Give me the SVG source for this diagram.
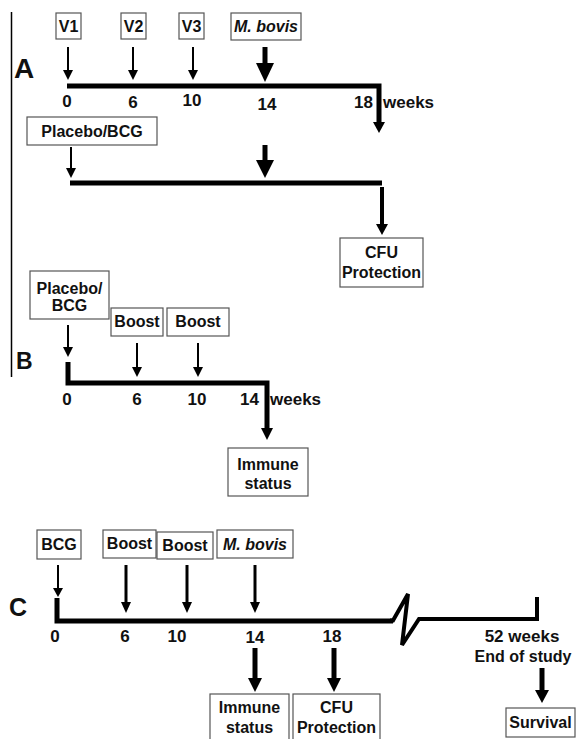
<svg xmlns="http://www.w3.org/2000/svg" width="576" height="739" viewBox="0 0 576 739">
<style>
.bx{fill:#fff;stroke:#555;stroke-width:1.2}
.t{font-family:"Liberation Sans",Arial,sans-serif;font-weight:bold;font-size:16px;fill:#111;text-anchor:middle}
.tk{font-family:"Liberation Sans",Arial,sans-serif;font-weight:bold;font-size:17px;fill:#111;text-anchor:middle}
.tl{text-anchor:start}
.it{font-style:italic}
.big{font-family:"Liberation Sans",Arial,sans-serif;font-weight:bold;fill:#111}
.ln{fill:none;stroke:#000;stroke-linecap:butt;stroke-linejoin:miter}
.s2{stroke-width:2}
.s3{stroke-width:3}
.s4{stroke-width:4}
.s5{stroke-width:5}
.hd{fill:#000}
</style>
<rect width="576" height="739" fill="#fff"/>
<g id="divider"><line x1="11.5" y1="12" x2="11.5" y2="377" class="ln" stroke-width="1.5"/></g>
<g id="panel-labels">
<text x="14" y="78" class="big" font-size="28">A</text>
<text x="16" y="369" class="big" font-size="23">B</text>
<text x="9" y="616" class="big" font-size="25">C</text>
</g>
<g id="nodes">
<g id="a-v1"><rect class="bx" x="56" y="13" width="25" height="26"/><text class="t" x="68.5" y="32">V1</text></g>
<g id="a-v2"><rect class="bx" x="121" y="13" width="25" height="26"/><text class="t" x="133.5" y="32">V2</text></g>
<g id="a-v3"><rect class="bx" x="179" y="13" width="25" height="26"/><text class="t" x="191.5" y="32">V3</text></g>
<g id="a-mbovis"><rect class="bx" x="231" y="13" width="70" height="27"/><text class="t it" x="266" y="32">M. bovis</text></g>
<g id="a-placebo"><rect class="bx" x="27" y="117" width="130" height="28"/><text class="t" x="92" y="137">Placebo/BCG</text></g>
<g id="a-cfu"><rect class="bx" x="340" y="238" width="83" height="49"/><text class="t" x="381.5" y="258">CFU</text><text class="t" x="381.5" y="278">Protection</text></g>
<g id="b-placebo"><rect class="bx" x="30" y="271" width="79" height="48"/><text class="t" x="69.5" y="294">Placebo/</text><text class="t" x="69.5" y="311">BCG</text></g>
<g id="b-boost1"><rect class="bx" x="111" y="308" width="52" height="28"/><text class="t" x="137" y="327">Boost</text></g>
<g id="b-boost2"><rect class="bx" x="167" y="308" width="62" height="28"/><text class="t" x="198" y="327">Boost</text></g>
<g id="b-immune"><rect class="bx" x="228" y="448" width="80" height="48"/><text class="t" x="268" y="470">Immune</text><text class="t" x="268" y="489">status</text></g>
<g id="c-bcg"><rect class="bx" x="37" y="530" width="44" height="29"/><text class="t" x="59" y="550">BCG</text></g>
<g id="c-boost1"><rect class="bx" x="103" y="530" width="53" height="28"/><text class="t" x="129.5" y="549">Boost</text></g>
<g id="c-boost2"><rect class="bx" x="157" y="532" width="56" height="27"/><text class="t" x="185" y="551">Boost</text></g>
<g id="c-mbovis"><rect class="bx" x="217" y="530" width="76" height="28"/><text class="t it" x="255" y="550">M. bovis</text></g>
<g id="c-immune"><rect class="bx" x="210" y="694" width="79" height="46"/><text class="t" x="249.5" y="713">Immune</text><text class="t" x="249.5" y="733">status</text></g>
<g id="c-cfu"><rect class="bx" x="293" y="694" width="87" height="46"/><text class="t" x="336.5" y="713">CFU</text><text class="t" x="336.5" y="733">Protection</text></g>
<g id="c-survival"><rect class="bx" x="506" y="708" width="69" height="29"/><text class="t" x="540.5" y="728">Survival</text></g>
</g>
<g id="ticks">
<text class="tk" x="67" y="107">0</text>
<text class="tk" x="133" y="108">6</text>
<text class="tk" x="192" y="106">10</text>
<text class="tk" x="267" y="110">14</text>
<text class="tk tl" x="354" y="108">18</text>
<text class="tk tl" x="383" y="108">weeks</text>
<text class="tk" x="67" y="405">0</text>
<text class="tk" x="137" y="405">6</text>
<text class="tk" x="197" y="405">10</text>
<text class="tk tl" x="240" y="405">14</text>
<text class="tk tl" x="270" y="405">weeks</text>
<text class="tk" x="55" y="642">0</text>
<text class="tk" x="125" y="642">6</text>
<text class="tk" x="177" y="642">10</text>
<text class="tk" x="255" y="643">14</text>
<text class="tk" x="332" y="642">18</text>
<text class="tk" x="522" y="642">52 weeks</text>
<text class="t" x="523" y="662">End of study</text>
</g>
<g id="connectors">
<!-- Panel A timelines -->
<polyline class="ln s5" points="67,86 379,86 379,124"/>
<polygon class="hd" points="373,122 385,122 379,133"/>
<polyline class="ln s5" points="70,183 382,183"/>
<line class="ln s4" x1="382" y1="187" x2="382" y2="226"/>
<polygon class="hd" points="376,224 388,224 382,235"/>
<!-- A arrows -->
<line class="ln s2" x1="68" y1="47" x2="68" y2="72"/><polygon class="hd" points="63,70 73,70 68,80"/>
<line class="ln s2" x1="133" y1="47" x2="133" y2="72"/><polygon class="hd" points="128,70 138,70 133,80"/>
<line class="ln s2" x1="193" y1="47" x2="193" y2="72"/><polygon class="hd" points="188,70 198,70 193,80"/>
<line class="ln s5" x1="265" y1="47" x2="265" y2="65"/><polygon class="hd" points="256,63 274,63 265,82"/>
<line class="ln s2" x1="71" y1="147" x2="71" y2="170"/><polygon class="hd" points="66,168 76,168 71,178"/>
<line class="ln s5" x1="265" y1="145" x2="265" y2="162"/><polygon class="hd" points="256,160 274,160 265,178"/>
<!-- Panel B -->
<polyline class="ln s5" points="68,362 68,383 267,383 267,430"/>
<polygon class="hd" points="261,428 273,428 267,440"/>
<line class="ln s2" x1="68" y1="325" x2="68" y2="349"/><polygon class="hd" points="63,347 73,347 68,357"/>
<line class="ln s2" x1="137" y1="343" x2="137" y2="369"/><polygon class="hd" points="132,367 142,367 137,377"/>
<line class="ln s2" x1="198" y1="343" x2="198" y2="369"/><polygon class="hd" points="193,367 203,367 198,377"/>
<!-- Panel C -->
<polyline class="ln s5" points="57,598 57,621 393,621" stroke-linejoin="miter"/>
<polyline class="ln s4" points="390,620.5 393,620.5 408,594 402,645 419,619 537,619 537,597" stroke-linejoin="round"/>
<line class="ln s2" x1="58" y1="565" x2="58" y2="590"/><polygon class="hd" points="53,588 63,588 58,597"/>
<line class="ln s3" x1="126" y1="565" x2="126" y2="604"/><polygon class="hd" points="121,602 131,602 126,613"/>
<line class="ln s3" x1="187" y1="565" x2="187" y2="604"/><polygon class="hd" points="182,602 192,602 187,613"/>
<line class="ln s3" x1="255" y1="565" x2="255" y2="604"/><polygon class="hd" points="250,602 260,602 255,613"/>
<line class="ln s5" x1="255" y1="648" x2="255" y2="680"/><polygon class="hd" points="248,678 262,678 255,692"/>
<line class="ln s5" x1="334" y1="648" x2="334" y2="680"/><polygon class="hd" points="327,678 341,678 334,692"/>
<line class="ln s5" x1="542" y1="668" x2="542" y2="692"/><polygon class="hd" points="535,690 549,690 542,703"/>
</g>
</svg>
